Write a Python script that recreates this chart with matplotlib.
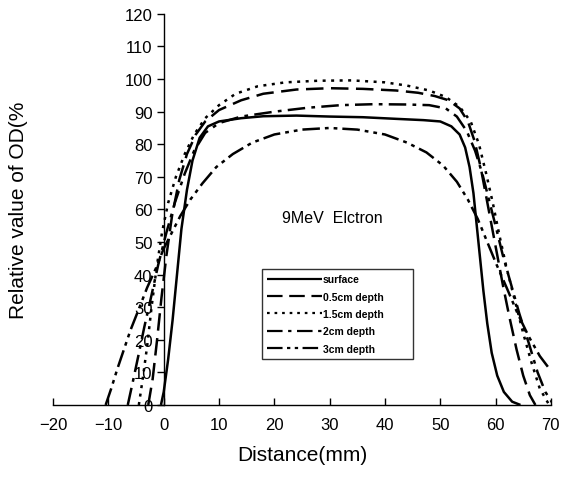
import numpy as np
import matplotlib.pyplot as plt


# ==========================================
# Data
# ==========================================

SURFACE_X = [-0.5, 0.0, 0.8, 1.6, 2.4, 3.2, 4.2, 5.2, 6.5, 8.0, 10.0, 14.0, 18.0, 24.0, 30.0,
             36.0, 42.0, 47.0, 50.0, 52.0, 53.5, 54.5, 55.3, 56.0, 56.6, 57.2, 57.8, 58.5,
             59.3, 60.3, 61.5, 63.0, 64.5]
SURFACE_Y = [0.0, 4.0, 14.0, 26.0, 40.0, 54.0, 66.0, 75.0, 82.0, 85.5, 87.0, 88.0, 88.6, 88.8, 88.5,
             88.3, 87.8, 87.4, 87.0, 85.5, 83.0, 79.0, 73.0, 65.0, 55.0, 45.0, 35.0, 25.0,
             16.0, 9.0, 4.0, 1.0, 0.0]

D05_X = [-2.8, -2.0, -1.2, -0.4, 0.5, 1.5, 2.8, 4.2, 5.8, 7.5, 10.0, 14.0, 18.0, 24.0, 30.0,
         36.0, 42.0, 46.0, 49.0, 51.5, 53.5, 55.0, 56.2, 57.3, 58.3, 59.3, 60.3, 61.3, 62.5,
         63.8, 65.0, 66.2, 67.2]
D05_Y = [0.0, 8.0, 20.0, 33.0, 46.0, 58.0, 69.0, 77.0, 83.0, 87.0, 90.5, 93.5, 95.5, 96.8, 97.2,
         97.0, 96.5, 95.8, 94.8, 93.5, 91.0, 87.0, 81.0, 73.0, 64.0, 55.0, 46.0, 37.0, 27.0,
         17.0, 9.0, 3.0, 0.0]

D15_X = [-4.5, -3.8, -3.0, -2.2, -1.3, -0.3, 0.8, 2.2, 3.8, 5.5, 7.5, 10.0, 13.0, 17.0, 22.0,
         28.0, 34.0, 40.0, 44.0, 48.0, 51.0, 53.5, 55.5, 57.0, 58.3, 59.5, 60.7, 62.0, 63.5,
         65.0, 66.5, 68.0, 69.7]
D15_Y = [0.0, 8.0, 18.0, 30.0, 42.0, 53.0, 62.0, 70.0, 77.0, 83.0, 88.0, 92.0, 95.5, 97.8, 99.0,
         99.5, 99.6, 99.0, 98.0, 96.5, 94.5, 91.5, 87.0, 80.0, 71.0, 62.0, 52.0, 42.0, 32.0,
         22.0, 13.0, 5.0, 0.0]

D2_X = [-6.5, -5.6, -4.6, -3.5, -2.3, -1.0, 0.5, 2.0, 3.8, 5.5, 7.5, 10.0, 14.0, 20.0, 26.0,
        32.0, 38.0, 44.0, 48.0, 51.0, 53.0, 54.8, 56.3, 57.6, 58.8, 60.0, 61.3, 62.8, 64.3,
        66.0, 67.6, 69.0, 70.5]
D2_Y = [0.0, 7.0, 15.0, 24.0, 33.0, 43.0, 53.0, 62.0, 71.0, 78.0, 83.5, 86.5, 88.5, 90.0, 91.2,
        92.0, 92.3, 92.2, 92.0, 91.0, 88.5, 84.0, 78.0, 71.0, 63.0, 55.0, 46.0, 37.0, 28.0,
        19.0, 10.0, 4.0, 0.0]

D3_X = [-10.5, -9.5, -8.4, -7.2, -6.0, -4.6, -3.0, -1.4, 0.0, 1.5, 3.0, 4.8, 7.0, 9.5, 12.5,
        16.0, 20.0, 25.0, 30.0, 35.0, 40.0, 44.0, 47.5, 50.5, 53.0, 55.0, 56.8, 58.5, 60.2,
        62.0, 64.0, 66.0, 68.0, 70.0]
D3_Y = [0.0, 5.0, 11.0, 17.0, 23.0, 29.0, 36.0, 42.0, 48.0, 53.0, 58.0, 63.0, 68.0, 73.0, 77.0,
        80.5, 83.0, 84.5, 85.0, 84.5, 83.0, 80.5, 77.5, 73.5, 68.5, 63.0, 57.0, 50.0, 43.0,
        36.0, 28.0, 21.0, 15.0, 10.5]

SERIES_LABELS = ["surface", "0.5cm depth", "1.5cm depth", "2cm depth", "3cm depth"]

X_TICKS = [-20, -10, 0, 10, 20, 30, 40, 50, 60, 70]
Y_TICKS = [0, 10, 20, 30, 40, 50, 60, 70, 80, 90, 100, 110, 120]


# ==========================================
# Settings
# ==========================================

FONT = "Liberation Sans"
LINE_WIDTH = 1.8

LINE_STYLES = [
    "-",
    (0, (7, 3)),
    (0, (1.2, 2.2)),
    (0, (7, 2.5, 1.5, 2.5)),
    (0, (7, 2, 1.5, 2, 1.5, 2)),
]


# ==========================================
# Plot
# ==========================================

def plot_profiles():
    plt.rcParams["font.family"] = [FONT, "DejaVu Sans"]

    fig = plt.figure(figsize=(5.65, 4.81), dpi=100)
    ax = fig.add_axes([0.094, 0.156, 0.881, 0.813])

    series = [
        (SURFACE_X, SURFACE_Y),
        (D05_X, D05_Y),
        (D15_X, D15_Y),
        (D2_X, D2_Y),
        (D3_X, D3_Y),
    ]

    for (x, y), label, style in zip(series, SERIES_LABELS, LINE_STYLES):
        ax.plot(x, y, color="black", linewidth=LINE_WIDTH, linestyle=style,
                label=label, solid_capstyle="butt")

    ax.set_xlim(-20, 70)
    ax.set_ylim(0, 120)
    ax.set_xticks(X_TICKS)
    ax.set_yticks(Y_TICKS)

    # y axis sits at x = 0, like the original scan
    ax.spines["left"].set_position(("data", 0))
    ax.spines["top"].set_visible(False)
    ax.spines["right"].set_visible(False)
    ax.spines["left"].set_linewidth(1.0)
    ax.spines["bottom"].set_linewidth(1.0)

    ax.tick_params(axis="x", direction="in", length=5, width=1.0, pad=9, labelsize=12)
    ax.tick_params(axis="y", direction="out", length=5, width=1.0, pad=3, labelsize=12)

    ax.set_xlabel("Distance(mm)", fontsize=15, labelpad=9)
    ax.set_ylabel("Relative value of OD(%", fontsize=15)
    ax.yaxis.set_label_coords(-0.05, 0.5)

    ax.text(30.5, 57.5, "9MeV  Elctron", fontsize=11.5, ha="center", va="center")

    legend = ax.legend(
        loc="lower left",
        bbox_to_anchor=(0.42, 0.118, 0.303, 0.23),
        mode="expand",
        frameon=True,
        fancybox=False,
        edgecolor="black",
        handlelength=5.2,
        handletextpad=0.1,
        labelspacing=0.7,
        borderpad=0.5,
        borderaxespad=0.0,
        prop={"size": 7.5, "weight": "bold"},
    )
    legend.get_frame().set_linewidth(1.0)
    for line in legend.get_lines():
        line.set_linewidth(1.6)

    fig.savefig("out.png", dpi=100)


def main():
    plot_profiles()


if __name__ == "__main__":
    main()
